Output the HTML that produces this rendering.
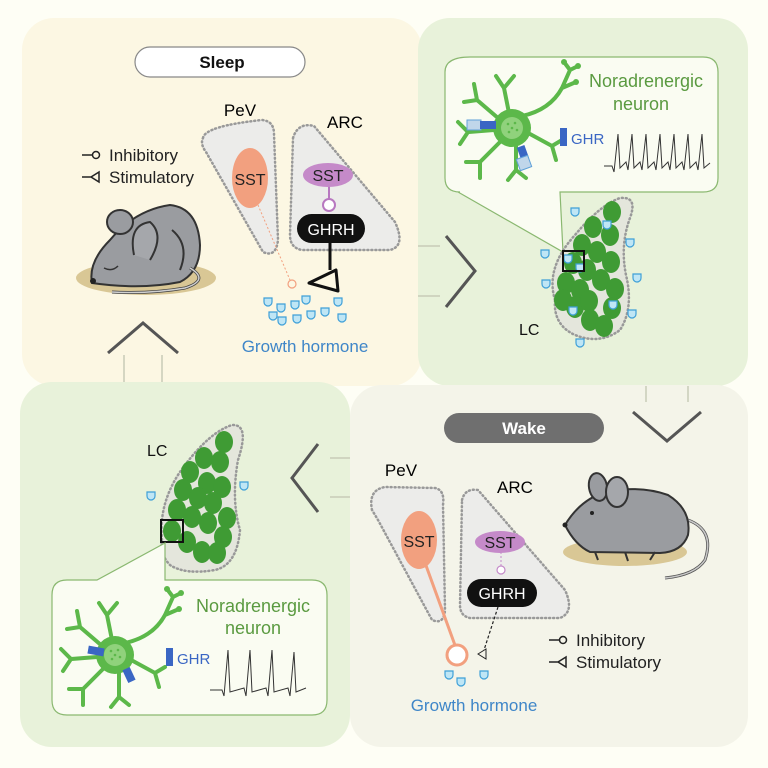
<!DOCTYPE html>
<html><head><meta charset="utf-8"><style>
html,body{margin:0;padding:0;background:#fefef5;}
svg{display:block;font-family:"Liberation Sans",Arial,sans-serif;}
</style></head><body>
<svg width="768" height="768" viewBox="0 0 768 768" xmlns="http://www.w3.org/2000/svg">
<defs>
  <g id="cup"><path d="M-4,-4 h8 v4 a4,4 0 0 1 -8,0 z" fill="#bfe6f5" stroke="#3fa0d8" stroke-width="1.2"/></g>
  <g id="neuron" stroke="#5cb84a" stroke-width="4" fill="none" stroke-linecap="round">
    <path d="M10,-12 Q38,-18 50,-40 L58,-58 M50,-40 L64,-46 M58,-58 L66,-62 M58,-58 L52,-66"/>
    <path d="M-3,-15 L-8,-40 L-16,-52 M-8,-40 L2,-52"/>
    <path d="M-14,-10 L-35,-28 L-48,-26 M-35,-28 L-38,-44"/>
    <path d="M-18,2 L-44,4 L-54,-6 M-44,4 L-52,16"/>
    <path d="M-12,14 L-32,34 L-46,34 M-32,34 L-32,50"/>
    <path d="M4,18 L4,42 L-4,52 M4,42 L14,50"/>
    <path d="M18,6 L40,18 L50,12 M40,18 L44,32"/>
    <circle cx="64" cy="-46" r="3" fill="#5cb84a" stroke="none"/>
    <circle cx="66" cy="-62" r="3" fill="#5cb84a" stroke="none"/>
    <circle cx="52" cy="-66" r="3" fill="#5cb84a" stroke="none"/>
    <circle r="19" fill="#5cb84a" stroke="none"/>
    <circle r="11" fill="#90d27c" stroke="none"/>
    <g fill="#5cb84a" stroke="none"><circle cx="-4" cy="-4" r="1.3"/><circle cx="3" cy="-5" r="1.3"/><circle cx="5" cy="2" r="1.3"/><circle cx="-3" cy="4" r="1.3"/><circle cx="0" cy="0" r="1.3"/></g>
  </g>
  <g id="lcdot"><ellipse rx="9" ry="11" fill="#3f9b34"/></g>
</defs>

<!-- panels -->
<rect x="22" y="18" width="400" height="368" rx="32" fill="#fcf7e3"/>
<rect x="418" y="18" width="330" height="368" rx="32" fill="#e8f2da"/>
<rect x="350" y="385" width="398" height="362" rx="32" fill="#f4f4e9"/>
<rect x="20" y="382" width="330" height="365" rx="32" fill="#e8f2da"/>

<!-- arrows -->
<g fill="none" stroke="#c8cbb8" stroke-width="1.5">
  <path d="M418,246 H440 M418,296 H440"/>
  <path d="M646,386 V402 M688,386 V402"/>
  <path d="M330,458 H350 M330,497 H350"/>
  <path d="M124,355 V382 M162,355 V382"/>
</g>
<g fill="none" stroke="#555" stroke-width="3" stroke-linejoin="miter">
  <path d="M446,236 L475,271 L446,307"/>
  <path d="M633,412 L667,441 L701,412"/>
  <path d="M318,444 L292,478 L318,512"/>
  <path d="M108,353 L143,323 L178,353"/>
</g>

<!-- ===== SLEEP PANEL ===== -->
<rect x="135" y="47" width="170" height="30" rx="15" fill="#fff" stroke="#888" stroke-width="1.2"/>
<text x="222" y="68" font-size="17" font-weight="bold" text-anchor="middle" fill="#111">Sleep</text>
<text x="240" y="116" font-size="17" text-anchor="middle">PeV</text>
<text x="345" y="128" font-size="17" text-anchor="middle">ARC</text>
<path d="M203,138 Q205,126 262,120 Q274,121 274,134 L278,240 Q276,258 263,252 L206,152 Q200,144 203,138 Z" fill="#ececea" stroke="#999" stroke-width="2.5" stroke-dasharray="1 3" stroke-linecap="round"/>
<path d="M293,138 Q298,122 314,126 L395,222 Q406,246 390,250 L302,250 Q290,248 290,235 Z" fill="#ececea" stroke="#999" stroke-width="2.5" stroke-dasharray="1 3" stroke-linecap="round"/>
<ellipse cx="250" cy="178" rx="18" ry="30" fill="#f2a07f"/>
<text x="250" y="185" font-size="16" text-anchor="middle" fill="#222">SST</text>
<line x1="258" y1="205" x2="290" y2="280" stroke="#f2a07f" stroke-width="1" stroke-dasharray="2 2"/>
<circle cx="292" cy="284" r="4" fill="none" stroke="#f2a07f" stroke-width="1.2"/>
<line x1="329" y1="180" x2="329" y2="200" stroke="#b878c0" stroke-width="2"/>
<circle cx="329" cy="205" r="6" fill="#fff" stroke="#b878c0" stroke-width="2"/>
<ellipse cx="328" cy="175" rx="25" ry="12" fill="#c58ac9"/>
<text x="328" y="181" font-size="16" text-anchor="middle" fill="#222">SST</text>
<rect x="297" y="214" width="68" height="29" rx="14.5" fill="#111"/>
<text x="331" y="235" font-size="16" text-anchor="middle" fill="#fff">GHRH</text>
<path d="M330,243 L330,270" stroke="#111" stroke-width="3" fill="none"/>
<path d="M309,283 L336,270 L338,291 Z" fill="none" stroke="#111" stroke-width="3" stroke-linejoin="round"/>
<g>
  <use href="#cup" x="268" y="302"/><use href="#cup" x="281" y="308"/><use href="#cup" x="295" y="305"/><use href="#cup" x="306" y="300"/><use href="#cup" x="338" y="302"/>
  <use href="#cup" x="273" y="316"/><use href="#cup" x="282" y="321"/><use href="#cup" x="297" y="319"/><use href="#cup" x="311" y="315"/><use href="#cup" x="325" y="312"/><use href="#cup" x="342" y="318"/>
</g>
<text x="305" y="352" font-size="17" text-anchor="middle" fill="#3f86c8">Growth hormone</text>
<g stroke="#222" stroke-width="1.5" fill="none">
  <path d="M82,155 H92"/><circle cx="96" cy="155" r="3.5"/>
  <path d="M82,177 H92 M99,172 L91,177 L99,182 Z"/>
</g>
<text x="109" y="161" font-size="17" fill="#222">Inhibitory</text>
<text x="109" y="183" font-size="17" fill="#222">Stimulatory</text>
<!-- sleeping mouse -->
<ellipse cx="146" cy="278" rx="70" ry="17" fill="#d9c795"/>
<path d="M92,283 Q88,262 110,240 Q135,210 170,205 Q198,208 200,245 Q200,272 180,282 Q140,290 92,283 Z" fill="#9a9ca0" stroke="#333" stroke-width="2"/>
<path d="M190,268 Q210,280 185,288 Q150,294 112,292" fill="none" stroke="#444" stroke-width="3"/>
<path d="M190,268 Q210,280 185,288 Q150,294 112,292" fill="none" stroke="#d0d0d0" stroke-width="1.5"/>
<ellipse cx="120" cy="222" rx="13" ry="12" fill="#9a9ca0" stroke="#333" stroke-width="2"/>
<path d="M134,255 Q128,225 150,222 Q165,235 150,260" fill="#a5a7ab" stroke="#333" stroke-width="2"/>
<path d="M172,230 Q190,245 180,270" fill="none" stroke="#333" stroke-width="2"/>
<path d="M104,268 Q112,272 118,266" fill="none" stroke="#333" stroke-width="1.5"/>
<circle cx="93" cy="281" r="3" fill="#222"/>

<!-- ===== TOP-RIGHT PANEL ===== -->
<path d="M470,57 H703 Q718,57 718,72 V178 Q718,192 703,192 H560 L563,252 L458,192 H460 Q445,192 445,178 V72 Q445,57 470,57 Z" fill="#fafcf2" stroke="#8ab870" stroke-width="1.2"/>
<use href="#neuron" x="512" y="128"/>
<rect x="467" y="120" width="14" height="10" fill="#c0d6ea" stroke="#5fa0d8" stroke-width="1"/>
<rect x="480" y="121" width="16" height="8" fill="#3a66c4"/>
<rect x="519" y="146" width="8" height="14" fill="#3a66c4" transform="rotate(-20 523 153)"/>
<rect x="518" y="157" width="12" height="12" fill="#c0d6ea" stroke="#5fa0d8" stroke-width="1" transform="rotate(-20 524 163)"/>
<text x="589" y="87" font-size="18" fill="#5a9a40">Noradrenergic</text>
<text x="641" y="110" font-size="18" text-anchor="middle" fill="#5a9a40">neuron</text>
<rect x="560" y="128" width="7" height="18" fill="#3a66c4"/>
<text x="571" y="144" font-size="15" fill="#3a66c4">GHR</text>
<polyline fill="none" stroke="#333" stroke-width="1" points="604,166 612,166 614,172 618,134 620,168 626,162 628,170 632,134 634,168 640,162 642,170 646,134 648,168 654,162 656,170 660,134 662,168 668,162 670,170 674,134 676,168 682,162 684,170 688,134 690,168 696,162 698,170 702,134 704,168 710,163"/>
<path d="M555,300 Q545,268 575,235 Q600,205 620,198 Q638,196 630,218 Q620,245 626,275 Q634,308 620,330 Q600,345 575,335 Q553,325 555,300 Z" fill="#e4e6dc" stroke="#999" stroke-width="2.5" stroke-dasharray="1 3" stroke-linecap="round"/>
<g>
  <use href="#lcdot" x="612" y="212"/><use href="#lcdot" x="593" y="227"/><use href="#lcdot" x="610" y="235"/><use href="#lcdot" x="582" y="245"/><use href="#lcdot" x="597" y="252"/><use href="#lcdot" x="611" y="262"/><use href="#lcdot" x="573" y="263"/><use href="#lcdot" x="587" y="270"/><use href="#lcdot" x="601" y="280"/><use href="#lcdot" x="615" y="289"/><use href="#lcdot" x="566" y="283"/><use href="#lcdot" x="580" y="290"/><use href="#lcdot" x="563" y="300"/><use href="#lcdot" x="575" y="307"/><use href="#lcdot" x="589" y="301"/><use href="#lcdot" x="612" y="308"/><use href="#lcdot" x="590" y="320"/><use href="#lcdot" x="604" y="326"/>
</g>
<g>
  <use href="#cup" x="575" y="212"/><use href="#cup" x="607" y="225"/><use href="#cup" x="630" y="243"/><use href="#cup" x="545" y="254"/><use href="#cup" x="568" y="259"/><use href="#cup" x="580" y="268"/><use href="#cup" x="637" y="278"/><use href="#cup" x="546" y="284"/><use href="#cup" x="573" y="311"/><use href="#cup" x="613" y="305"/><use href="#cup" x="632" y="314"/><use href="#cup" x="580" y="343"/>
</g>
<rect x="563" y="251" width="21" height="20" fill="none" stroke="#111" stroke-width="2"/>
<text x="519" y="335" font-size="16" fill="#111">LC</text>

<!-- ===== BOTTOM-LEFT PANEL ===== -->
<text x="147" y="456" font-size="16" fill="#111">LC</text>
<path d="M162,540 Q158,500 185,465 Q210,432 232,425 Q250,424 238,460 Q231,500 240,530 Q237,565 215,570 Q185,575 170,565 Q160,555 162,540 Z" fill="#e4e6dc" stroke="#999" stroke-width="2.5" stroke-dasharray="1 3" stroke-linecap="round"/>
<g>
  <use href="#lcdot" x="224" y="442"/><use href="#lcdot" x="204" y="458"/><use href="#lcdot" x="220" y="462"/><use href="#lcdot" x="190" y="472"/><use href="#lcdot" x="207" y="483"/><use href="#lcdot" x="222" y="487"/><use href="#lcdot" x="183" y="490"/><use href="#lcdot" x="198" y="498"/><use href="#lcdot" x="213" y="503"/><use href="#lcdot" x="177" y="510"/><use href="#lcdot" x="192" y="517"/><use href="#lcdot" x="208" y="523"/><use href="#lcdot" x="227" y="518"/><use href="#lcdot" x="172" y="531"/><use href="#lcdot" x="187" y="542"/><use href="#lcdot" x="202" y="552"/><use href="#lcdot" x="217" y="553"/><use href="#lcdot" x="223" y="537"/>
</g>
<use href="#cup" x="151" y="496"/><use href="#cup" x="244" y="486"/>
<rect x="161" y="520" width="22" height="22" fill="none" stroke="#111" stroke-width="2"/>
<path d="M67,580 H97 L165,543 L165,580 H312 Q327,580 327,595 V700 Q327,715 312,715 H67 Q52,715 52,700 V595 Q52,580 67,580 Z" fill="#fafcf2" stroke="#8ab870" stroke-width="1.2"/>
<use href="#neuron" x="115" y="655"/>
<rect x="88" y="647" width="16" height="8" fill="#3a66c4" transform="rotate(10 96 651)"/>
<rect x="125" y="668" width="8" height="14" fill="#3a66c4" transform="rotate(-25 129 675)"/>
<text x="196" y="612" font-size="18" fill="#5a9a40">Noradrenergic</text>
<text x="253" y="634" font-size="18" text-anchor="middle" fill="#5a9a40">neuron</text>
<rect x="166" y="648" width="7" height="18" fill="#3a66c4"/>
<text x="177" y="664" font-size="15" fill="#3a66c4">GHR</text>
<polyline fill="none" stroke="#333" stroke-width="1" points="210,690 222,690 224,696 228,650 230,692 244,688 246,696 250,650 252,692 266,688 268,696 272,650 274,692 288,688 290,696 294,652 296,692 306,688"/>

<!-- ===== WAKE PANEL ===== -->
<rect x="444" y="413" width="160" height="30" rx="15" fill="#6f6f6f"/>
<text x="524" y="434" font-size="17" font-weight="bold" text-anchor="middle" fill="#fff">Wake</text>
<text x="401" y="476" font-size="17" text-anchor="middle">PeV</text>
<text x="515" y="493" font-size="17" text-anchor="middle">ARC</text>
<path d="M372,510 Q368,490 385,487 L435,488 Q445,490 443,505 L445,610 Q444,625 432,620 L378,520 Z" fill="#ececea" stroke="#999" stroke-width="2.5" stroke-dasharray="1 3" stroke-linecap="round"/>
<path d="M462,500 Q465,488 478,490 L565,590 Q575,612 560,618 L470,618 Q460,616 460,605 Z" fill="#ececea" stroke="#999" stroke-width="2.5" stroke-dasharray="1 3" stroke-linecap="round"/>
<line x1="424" y1="560" x2="456" y2="648" stroke="#f2a07f" stroke-width="3"/>
<circle cx="457" cy="655" r="10" fill="#fff" stroke="#f2a07f" stroke-width="3"/>
<ellipse cx="419" cy="540" rx="18" ry="29" fill="#f2a07f"/>
<text x="419" y="547" font-size="16" text-anchor="middle" fill="#222">SST</text>
<line x1="501" y1="552" x2="501" y2="566" stroke="#c58ac9" stroke-width="1" stroke-dasharray="2 2"/>
<circle cx="501" cy="570" r="4" fill="#fff" stroke="#c58ac9" stroke-width="1.2"/>
<ellipse cx="500" cy="542" rx="25" ry="11" fill="#c58ac9"/>
<text x="500" y="548" font-size="16" text-anchor="middle" fill="#222">SST</text>
<rect x="467" y="579" width="70" height="28" rx="14" fill="#111"/>
<text x="502" y="599" font-size="16" text-anchor="middle" fill="#fff">GHRH</text>
<line x1="498" y1="607" x2="484" y2="650" stroke="#222" stroke-width="1.2" stroke-dasharray="3 2"/>
<path d="M478,654 L486,649 L486,659 Z" fill="none" stroke="#222" stroke-width="1"/>
<use href="#cup" x="449" y="675"/><use href="#cup" x="461" y="682"/><use href="#cup" x="484" y="675"/>
<text x="474" y="711" font-size="17" text-anchor="middle" fill="#3f86c8">Growth hormone</text>
<g stroke="#222" stroke-width="1.5" fill="none">
  <path d="M549,640 H559"/><circle cx="563" cy="640" r="3.5"/>
  <path d="M549,662 H559 M566,657 L558,662 L566,667 Z"/>
</g>
<text x="576" y="646" font-size="17" fill="#222">Inhibitory</text>
<text x="576" y="668" font-size="17" fill="#222">Stimulatory</text>
<!-- standing mouse -->
<ellipse cx="625" cy="552" rx="62" ry="14" fill="#d9c795"/>
<path d="M688,520 Q715,530 705,560 Q695,575 665,578" fill="none" stroke="#555" stroke-width="3"/>
<path d="M688,520 Q715,530 705,560 Q695,575 665,578" fill="none" stroke="#c9c9c9" stroke-width="1.5"/>
<path d="M565,525 Q580,500 605,492 Q640,485 668,495 Q692,510 688,535 Q682,552 660,553 L590,552 Q575,545 565,525 Z" fill="#9a9ca0" stroke="#333" stroke-width="2"/>
<path d="M595,552 L598,560 M625,552 L628,561 M655,552 L650,560" stroke="#333" stroke-width="2"/>
<ellipse cx="598" cy="487" rx="9" ry="14" fill="#9a9ca0" stroke="#333" stroke-width="2" transform="rotate(-10 598 487)"/>
<ellipse cx="617" cy="492" rx="11" ry="15" fill="#a5a7ab" stroke="#333" stroke-width="2"/>
<circle cx="592" cy="513" r="2" fill="#222"/>
<circle cx="565" cy="525" r="2.5" fill="#222"/>
</svg>
</body></html>
